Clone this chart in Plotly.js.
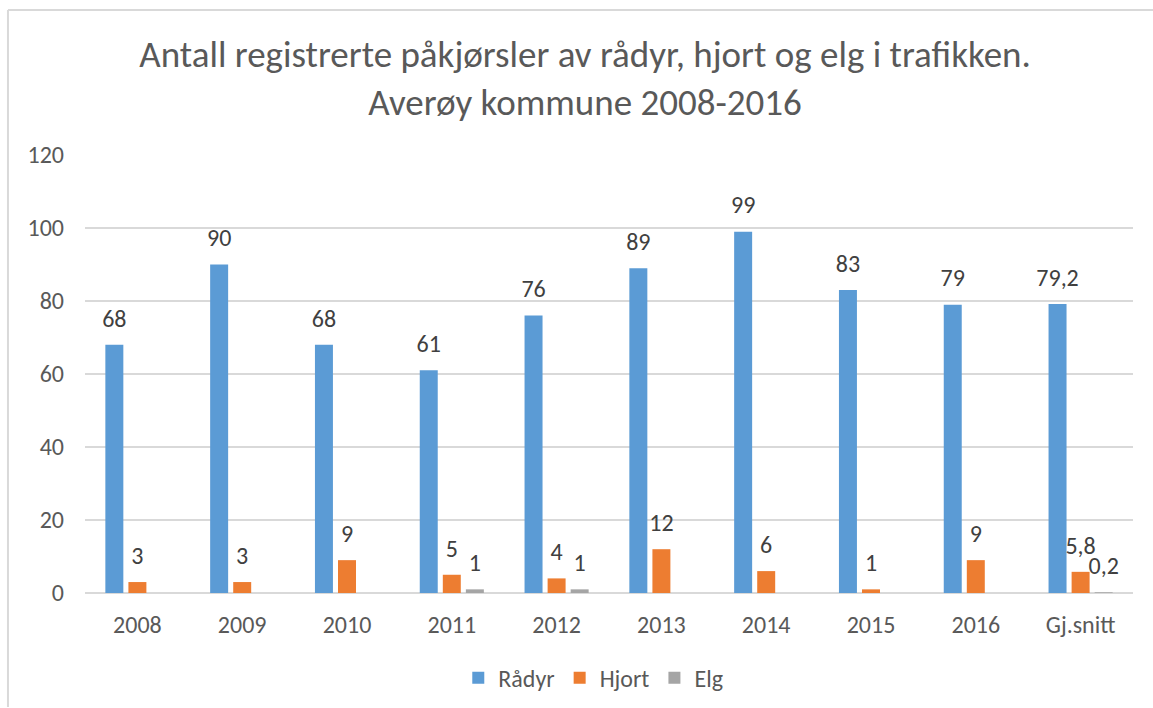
<!DOCTYPE html>
<html>
<head>
<meta charset="utf-8">
<script src="https://cdn.plot.ly/plotly-3.0.1.min.js"></script>
<style>
html,body{margin:0;padding:0;background:#fff;}
#chart{width:1153px;height:708px;}
</style>
</head>
<body>
<div id="chart"></div>
<script>
const categories = ["2008","2009","2010","2011","2012","2013","2014","2015","2016","Gj.snitt"];
const radyr = [68, 90, 68, 61, 76, 89, 99, 83, 79, 79.2];
const hjort = [3, 3, 9, 5, 4, 12, 6, 1, 9, 5.8];
const elg = [0, 0, 0, 1, 1, 0, 0, 0, 0, 0.2];
const seriesNames = ["Rådyr", "Hjort", "Elg"];
const seriesColors = ["#5B9BD5", "#ED7D31", "#A5A5A5"];
const yTicks = [0, 20, 40, 60, 80, 100, 120];

const fmt = v => String(v).replace('.', ',');
const FONT = "Carlito, Calibri, Lato, 'Open Sans', sans-serif";
const TXT = "#595959";
const series = [radyr, hjort, elg];

const data = [];
series.forEach((vals, i) => {
  data.push({
    type: 'bar',
    name: seriesNames[i],
    x: categories,
    y: vals,
    offsetgroup: 'g' + i,
    alignmentgroup: 'a',
    marker: {color: seriesColors[i]},
    hoverinfo: 'skip'
  });
});
series.forEach((vals, i) => {
  data.push({
    type: 'scatter',
    mode: 'markers+text',
    x: categories,
    y: vals,
    offsetgroup: 'g' + i,
    alignmentgroup: 'a',
    text: vals.map(v => (i === 2 && v === 0) ? '' : fmt(v)),
    textposition: 'top center',
    textfont: {family: FONT, size: 24, color: "#404040"},
    marker: {size: 18, opacity: 0, color: seriesColors[i]},
    cliponaxis: false,
    showlegend: false,
    hoverinfo: 'skip'
  });
});

const layout = {
  width: 1153, height: 708,
  margin: {l: 85, r: 20, t: 155, b: 115},
  paper_bgcolor: '#fff', plot_bgcolor: '#fff',
  font: {family: FONT, color: TXT, size: 24},
  title: {
    text: "Antall registrerte påkjørsler av rådyr, hjort og elg i trafikken.<br>Averøy kommune 2008-2016",
    font: {family: FONT, size: 37, color: TXT},
    x: 0.5074, xanchor: 'center', xref: 'container',
    y: 0.905, yanchor: 'middle', yref: 'container'
  },
  barmode: 'group',
  scattermode: 'group',
  bargap: 0.34,
  scattergap: 0.34,
  bargroupgap: 0.22,
  showlegend: true,
  legend: {
    orientation: 'h', x: 0.485, xanchor: 'center',
    yref: 'container', y: 0.074, yanchor: 'top',
    font: {family: FONT, size: 24, color: TXT},
    traceorder: 'normal'
  },
  xaxis: {
    type: 'category',
    showgrid: false, showline: false, ticks: '', zeroline: false,
    tickfont: {family: FONT, size: 24, color: TXT},
    ticklabelstandoff: 15,
    automargin: false
  },
  yaxis: {
    range: [0, 120], tickvals: yTicks, ticktext: yTicks.map(String),
    showgrid: true, gridcolor: '#D9D9D9', gridwidth: 1.5,
    zeroline: true, zerolinecolor: '#D9D9D9', zerolinewidth: 1.5,
    showline: false, ticks: '',
    tickfont: {family: FONT, size: 24, color: TXT},
    ticklabelstandoff: 20,
    automargin: false
  },
  shapes: [
    {type: 'line', xref: 'paper', yref: 'paper', x0: -0.0735, x1: -0.0735, y0: -0.26, y1: 1.331, line: {color: '#D9D9D9', width: 2}},
    {type: 'line', xref: 'paper', yref: 'paper', x0: -0.0735, x1: 1.03, y0: 1.331, y1: 1.331, line: {color: '#D9D9D9', width: 2}}
  ]
};

Plotly.newPlot('chart', data, layout, {displayModeBar: false, staticPlot: true});
</script>
</body>
</html>
